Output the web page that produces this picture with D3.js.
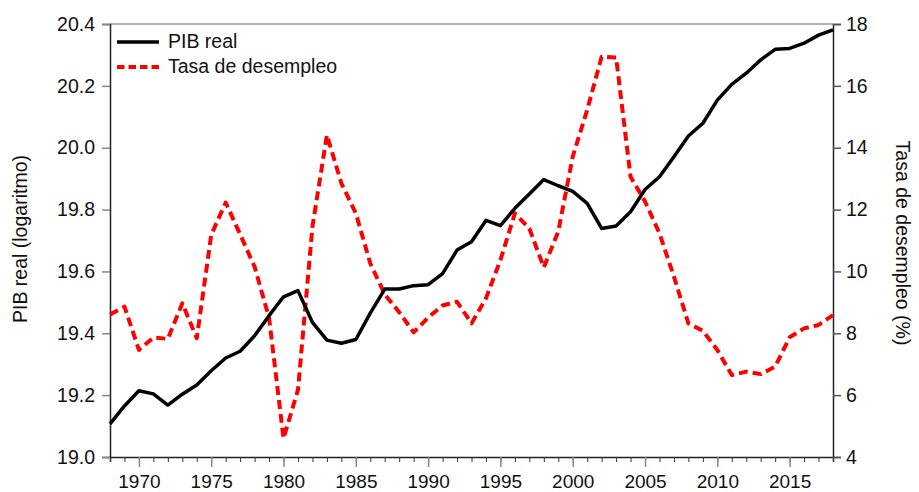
<!DOCTYPE html>
<html>
<head>
<meta charset="utf-8">
<script src="https://cdn.jsdelivr.net/npm/d3@7"></script>
<style>
  body { margin: 0; background: #fff; }
  svg { font-family: "Liberation Sans", Arial, sans-serif; }
</style>
</head>
<body>
<div id="chart"></div>
<script>
// years 1968..2018
var years = d3.range(1968, 2019);

// PIB real (logaritmo), left axis
var pib = [19.107, 19.165, 19.214, 19.204, 19.168, 19.203, 19.233, 19.279, 19.320, 19.342,
           19.392, 19.457, 19.518, 19.538, 19.435, 19.378, 19.368, 19.380, 19.465, 19.543,
           19.543, 19.554, 19.557, 19.593, 19.669, 19.696, 19.765, 19.748, 19.804, 19.850,
           19.897, 19.877, 19.859, 19.820, 19.739, 19.747, 19.793, 19.865, 19.906, 19.971,
           20.038, 20.079, 20.154, 20.205, 20.241, 20.284, 20.318, 20.321, 20.338, 20.364,
           20.381];

// Tasa de desempleo (%), right axis
var desempleo = [8.61, 8.86, 7.46, 7.86, 7.82, 8.97, 7.84, 11.18, 12.23, 11.2,
                 10.15, 8.5, 4.6, 6.17, 11.45, 14.41, 12.85, 11.88, 10.26, 9.26,
                 8.68, 8.03, 8.51, 8.9, 9.02, 8.32, 9.13, 10.37, 11.88, 11.39,
                 10.13, 11.29, 13.71, 15.22, 16.94, 16.92, 13.06, 12.26, 11.23, 9.83,
                 8.32, 8.08, 7.46, 6.65, 6.76, 6.68, 6.92, 7.87, 8.16, 8.27,
                 8.59];

var leftTicks = [19.0, 19.2, 19.4, 19.6, 19.8, 20.0, 20.2, 20.4];
var rightTicks = [4, 6, 8, 10, 12, 14, 16, 18];
var xMajor = [1970, 1975, 1980, 1985, 1990, 1995, 2000, 2005, 2010, 2015];

var W = 919, H = 492;
var m = {left: 110, right: 86, top: 24, bottom: 35};
var FS = 19.5;

var svg = d3.select("#chart").append("svg")
    .attr("width", W)
    .attr("height", H);

var x = d3.scaleLinear().domain([1968, 2018]).range([m.left, W - m.right]);
var yL = d3.scaleLinear().domain([19.0, 20.4]).range([H - m.bottom, m.top]);
var yR = d3.scaleLinear().domain([4, 18]).range([H - m.bottom, m.top]);

// top border
svg.append("line")
    .attr("x1", x(1968)).attr("x2", x(2018))
    .attr("y1", m.top).attr("y2", m.top)
    .attr("stroke", "#999").attr("stroke-width", 1.5);

// x axis: minor (every year) and major ticks
var xMinor = svg.append("g")
    .attr("transform", "translate(0," + (H - m.bottom) + ")")
    .call(d3.axisBottom(x).tickValues(years).tickSize(5).tickFormat(""));
xMinor.select(".domain").attr("stroke", "#222").attr("stroke-width", 1.5);
xMinor.selectAll(".tick line").attr("stroke", "#333");

var xAxis = svg.append("g")
    .attr("transform", "translate(0," + (H - m.bottom) + ")")
    .call(d3.axisBottom(x).tickValues(xMajor).tickSize(10).tickPadding(8).tickFormat(d3.format("d")));
xAxis.select(".domain").remove();
xAxis.selectAll(".tick line").attr("stroke", "#888").attr("stroke-width", 1.5);
xAxis.selectAll("text").attr("font-size", 19).attr("fill", "#111")
    .attr("font-family", "Liberation Sans, Arial, sans-serif");

// left axis
var left = svg.append("g")
    .attr("transform", "translate(" + m.left + ",0)")
    .call(d3.axisLeft(yL).tickValues(leftTicks).tickSize(8).tickPadding(7).tickFormat(d3.format(".1f")));
left.select(".domain").attr("stroke", "#222").attr("stroke-width", 1.5);
left.selectAll(".tick line").attr("stroke", "#888").attr("stroke-width", 1.5);
left.selectAll("text").attr("font-size", FS).attr("fill", "#111")
    .attr("font-family", "Liberation Sans, Arial, sans-serif");

// right axis
var right = svg.append("g")
    .attr("transform", "translate(" + (W - m.right) + ",0)")
    .call(d3.axisRight(yR).tickValues(rightTicks).tickSize(8).tickPadding(5).tickFormat(d3.format("d")));
right.select(".domain").attr("stroke", "#222").attr("stroke-width", 1.5);
right.selectAll(".tick line").attr("stroke", "#555").attr("stroke-width", 1.5);
right.selectAll("text").attr("font-size", FS).attr("fill", "#111")
    .attr("font-family", "Liberation Sans, Arial, sans-serif");

// axis titles
svg.append("text")
    .attr("transform", "translate(27,239)rotate(-90)")
    .attr("text-anchor", "middle")
    .attr("font-size", FS).attr("fill", "#111")
    .text("PIB real (logaritmo)");

svg.append("text")
    .attr("transform", "translate(896,243)rotate(90)")
    .attr("text-anchor", "middle")
    .attr("font-size", FS).attr("fill", "#111")
    .text("Tasa de desempleo (%)");

// series
var linePib = d3.line()
    .x(function(d, i) { return x(years[i]); })
    .y(function(d) { return yL(d); });
var lineDes = d3.line()
    .x(function(d, i) { return x(years[i]); })
    .y(function(d) { return yR(d); });

svg.append("path")
    .datum(desempleo)
    .attr("d", lineDes)
    .attr("fill", "none")
    .attr("stroke", "#ff0000")
    .attr("stroke-width", 4)
    .attr("stroke-dasharray", "9,5")
    .attr("stroke-linejoin", "round");

svg.append("path")
    .datum(pib)
    .attr("d", linePib)
    .attr("fill", "none")
    .attr("stroke", "#000")
    .attr("stroke-width", 3.5)
    .attr("stroke-linejoin", "round");

// legend
var legend = svg.append("g").attr("transform", "translate(117,0)");
legend.append("line")
    .attr("x1", 0).attr("x2", 42).attr("y1", 42).attr("y2", 42)
    .attr("stroke", "#000").attr("stroke-width", 3.5);
legend.append("text")
    .attr("x", 51).attr("y", 47.5)
    .attr("font-size", FS).attr("fill", "#111")
    .text("PIB real");
legend.append("line")
    .attr("x1", 0).attr("x2", 42).attr("y1", 67).attr("y2", 67)
    .attr("stroke", "#ff0000").attr("stroke-width", 4).attr("stroke-dasharray", "7.5,4");
legend.append("text")
    .attr("x", 51).attr("y", 72.5)
    .attr("font-size", FS).attr("fill", "#111")
    .text("Tasa de desempleo");
</script>
</body>
</html>
